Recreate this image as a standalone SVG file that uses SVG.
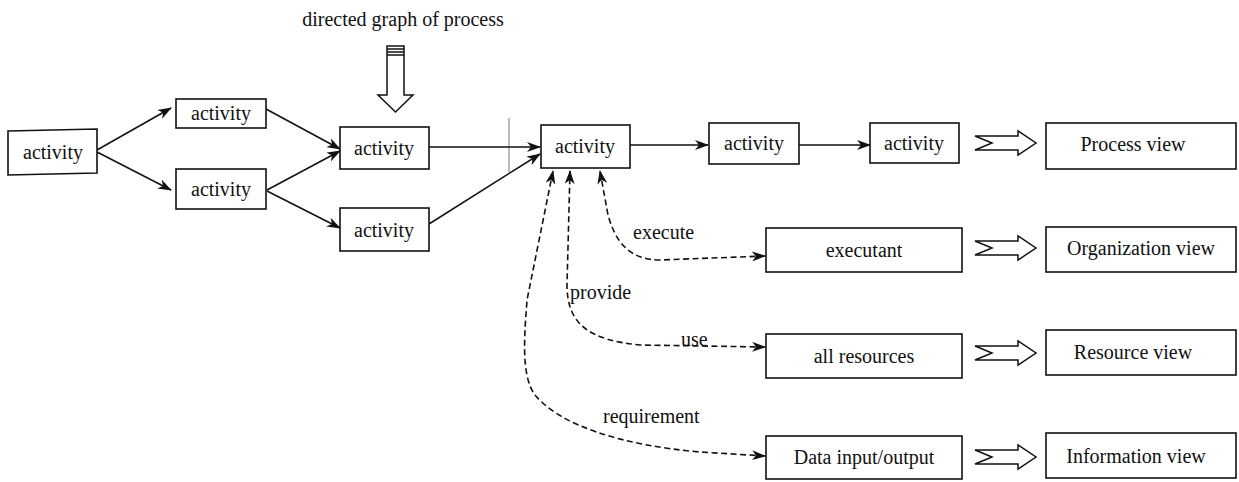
<svg xmlns="http://www.w3.org/2000/svg" width="1239" height="482" viewBox="0 0 1239 482">
  <style>
    .box { fill: #fff; stroke: #111; stroke-width: 1.6; }
    .lbl { font-family: "Liberation Serif", "Times New Roman", serif; font-size: 20px; fill: #111; text-anchor: middle; }
    .tag { font-family: "Liberation Serif", "Times New Roman", serif; font-size: 20px; fill: #111; }
    .edge { fill: none; stroke: #111; stroke-width: 1.5; }
    .dash { fill: none; stroke: #111; stroke-width: 1.6; stroke-dasharray: 6 3.5; }
    .hollow { fill: #fff; stroke: #111; stroke-width: 1.5; stroke-linejoin: miter; }
  </style>
  <defs>
    <marker id="head" viewBox="0 0 14 10" refX="13" refY="5" markerWidth="14" markerHeight="10" markerUnits="userSpaceOnUse" orient="auto-start-reverse">
      <path d="M0,0 L14,5 L0,10 L4,5 Z" fill="#111"/>
    </marker>
    <path id="fat" d="M0,-7 L43,-7 L43,-12 L61,0 L43,12 L43,7 L0,7 L17,0 Z"/>
  </defs>
  <rect width="1239" height="482" fill="#fff"/>

  <text class="lbl" x="403" y="26">directed graph of process</text>

  <!-- big down arrow into the process graph -->
  <g id="down-arrow">
    <path class="hollow" d="M387,46 L404,46 L404,95 L413,95 L395.5,112 L378,95 L387,95 Z"/>
    <line x1="387" y1="49" x2="404" y2="49" stroke="#111" stroke-width="1.5"/>
    <line x1="387" y1="52" x2="404" y2="52" stroke="#111" stroke-width="1.5"/>
    <line x1="387" y1="55" x2="404" y2="55" stroke="#111" stroke-width="1.5"/>
  </g>

  <!-- thin divider -->
  <line x1="509" y1="118" x2="509" y2="172" stroke="#777" stroke-width="1"/>

  <!-- connectors -->
  <g id="connectors">
    <line class="edge" x1="97" y1="150" x2="171" y2="108" marker-end="url(#head)"/>
    <line class="edge" x1="97" y1="152" x2="171" y2="190" marker-end="url(#head)"/>
    <line class="edge" x1="266" y1="109" x2="340" y2="149" marker-end="url(#head)"/>
    <line class="edge" x1="267" y1="190" x2="340" y2="151" marker-end="url(#head)"/>
    <line class="edge" x1="267" y1="191" x2="340" y2="228" marker-end="url(#head)"/>
    <line class="edge" x1="429" y1="147" x2="540" y2="147" marker-end="url(#head)"/>
    <line class="edge" x1="429" y1="224" x2="540" y2="154" marker-end="url(#head)"/>
    <line class="edge" x1="630" y1="145" x2="708" y2="145" marker-end="url(#head)"/>
    <line class="edge" x1="799" y1="145" x2="870" y2="145" marker-end="url(#head)"/>

    <!-- execute -->
    <path class="dash" d="M765,256 L660,260 C628,260 615,240 608,215 L600,171" marker-start="url(#head)" marker-end="url(#head)"/>
    <!-- provide / use -->
    <path class="dash" d="M765,347 L640,345 C590,340 567,325 567,285 L570,171" marker-start="url(#head)" marker-end="url(#head)"/>
    <!-- requirement -->
    <path class="dash" d="M765,456 L700,452 C620,445 560,425 535,395 C520,375 525,330 527,300 L553,171" marker-start="url(#head)" marker-end="url(#head)"/>

    <use href="#fat" x="975" y="143" class="hollow"/>
    <use href="#fat" x="975" y="248" class="hollow"/>
    <use href="#fat" x="975" y="353" class="hollow"/>
    <use href="#fat" x="975" y="457" class="hollow"/>
  </g>

  <text class="tag" x="633" y="239">execute</text>
  <text class="tag" x="570" y="299">provide</text>
  <text class="tag" x="681" y="346">use</text>
  <text class="tag" x="603" y="423">requirement</text>

  <g id="a1"><path class="box" d="M8,131 L97,129 L97,173 L8,175 Z"/><text class="lbl" x="53" y="159">activity</text></g>
  <g id="a2"><rect class="box" x="176" y="99" width="90" height="29"/><text class="lbl" x="221" y="120">activity</text></g>
  <g id="a3"><rect class="box" x="176" y="169" width="90" height="40"/><text class="lbl" x="221" y="196">activity</text></g>
  <g id="a4"><rect class="box" x="340" y="127" width="89" height="42"/><text class="lbl" x="384" y="155">activity</text></g>
  <g id="a5"><rect class="box" x="340" y="208" width="89" height="43"/><text class="lbl" x="384" y="237">activity</text></g>
  <g id="a6"><rect class="box" x="541" y="125" width="89" height="43"/><text class="lbl" x="585" y="153">activity</text></g>
  <g id="a7"><rect class="box" x="709" y="123" width="90" height="41"/><text class="lbl" x="754" y="150">activity</text></g>
  <g id="a8"><rect class="box" x="870" y="123" width="89" height="40"/><text class="lbl" x="914" y="150">activity</text></g>

  <g id="executant"><rect class="box" x="766" y="228" width="196" height="44"/><text class="lbl" x="864" y="257">executant</text></g>
  <g id="resources"><rect class="box" x="766" y="334" width="196" height="44"/><text class="lbl" x="864" y="363">all resources</text></g>
  <g id="data-io"><rect class="box" x="766" y="436" width="196" height="43"/><text class="lbl" x="864" y="464">Data input/output</text></g>

  <g id="process-view"><rect class="box" x="1046" y="123" width="190" height="46"/><text class="lbl" x="1133" y="151">Process view</text></g>
  <g id="organization-view"><rect class="box" x="1046" y="227" width="190" height="45"/><text class="lbl" x="1141" y="255">Organization view</text></g>
  <g id="resource-view"><rect class="box" x="1046" y="330" width="190" height="45"/><text class="lbl" x="1133" y="359">Resource view</text></g>
  <g id="information-view"><rect class="box" x="1046" y="433" width="190" height="45"/><text class="lbl" x="1136" y="463">Information view</text></g>
</svg>
